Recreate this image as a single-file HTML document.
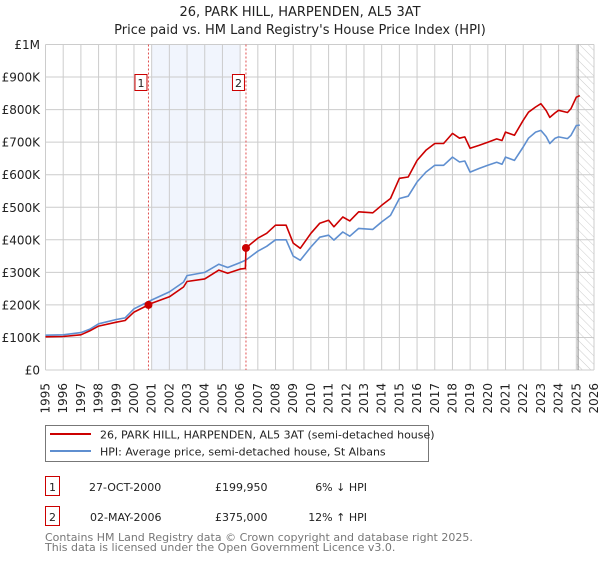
<!DOCTYPE html>
<html><head><meta charset="utf-8"><style>
body{margin:0;background:#fff;}
svg{font-family:"DejaVu Sans","Liberation Sans",sans-serif;}
</style></head><body>
<svg id="chart" width="600" height="560" viewBox="0 0 600 560" xmlns="http://www.w3.org/2000/svg">
<defs><pattern id="hatch" width="6" height="6" patternUnits="userSpaceOnUse" patternTransform="rotate(-45)"><line x1="0" y1="0" x2="0" y2="6" stroke="#ccc" stroke-width="1"/></pattern></defs>
<text x="300" y="16" text-anchor="middle" font-size="13" fill="#222">26, PARK HILL, HARPENDEN, AL5 3AT</text>
<text x="300" y="34" text-anchor="middle" font-size="13" fill="#222">Price paid vs. HM Land Registry's House Price Index (HPI)</text>
<g id="plot"></g>
<g>
<rect x="45.5" y="425.5" width="383" height="36" fill="#fff" stroke="#777"/>
<line x1="50" y1="434" x2="91" y2="434" stroke="#cc0000" stroke-width="2"/>
<text x="100" y="438.5" font-size="11" fill="#222">26, PARK HILL, HARPENDEN, AL5 3AT (semi-detached house)</text>
<line x1="50" y1="451" x2="91" y2="451" stroke="#5f8fd0" stroke-width="2"/>
<text x="100" y="455.5" font-size="11" fill="#222">HPI: Average price, semi-detached house, St Albans</text>
</g>
<g font-size="11" fill="#222">
<rect x="45.5" y="476.5" width="14" height="19" fill="#fff" stroke="#cc0000"/>
<text x="52.5" y="491" text-anchor="middle">1</text>
<text x="89" y="491">27-OCT-2000</text>
<text x="215" y="491">£199,950</text>
<text x="367" y="491" text-anchor="end">6% ↓ HPI</text>
<rect x="45.5" y="506.5" width="14" height="19" fill="#fff" stroke="#cc0000"/>
<text x="52.5" y="521" text-anchor="middle">2</text>
<text x="90" y="521">02-MAY-2006</text>
<text x="215" y="521">£375,000</text>
<text x="367" y="521" text-anchor="end">12% ↑ HPI</text>
</g>
<text x="45" y="541" font-size="11" fill="#777">Contains HM Land Registry data © Crown copyright and database right 2025.</text>
<text x="45" y="551" font-size="11" fill="#777">This data is licensed under the Open Government Licence v3.0.</text>
</svg>
<script>
const yTicks=[0,100,200,300,400,500,600,700,800,900,1000];
const yTickLabels=["£0","£100K","£200K","£300K","£400K","£500K","£600K","£700K","£800K","£900K","£1M"];
const years=[1995,1996,1997,1998,1999,2000,2001,2002,2003,2004,2005,2006,2007,2008,2009,2010,2011,2012,2013,2014,2015,2016,2017,2018,2019,2020,2021,2022,2023,2024,2025,2026];
const redT=[1995,1996,1997,1997.5,1998,1999,1999.5,2000,2000.82,2001,2002,2002.8,2003,2004,2004.8,2005.3,2006,2006.3,2006.33,2007,2007.5,2008,2008.6,2009,2009.4,2010,2010.5,2011,2011.3,2011.8,2012.2,2012.7,2013.5,2014,2014.5,2015,2015.5,2016,2016.5,2017,2017.5,2018,2018.4,2018.7,2019,2019.5,2020,2020.5,2020.8,2021,2021.5,2022,2022.3,2022.7,2023,2023.3,2023.5,2023.8,2024,2024.5,2024.7,2025,2025.2];
const redV=[102,103,108,120,135,147,152,178,200,205,225,255,272,280,307,297,310,312,375,405,420,445,445,390,374,420,451,460,440,470,458,486,483,506,527,589,593,644,675,696,696,727,712,716,681,690,700,710,705,731,721,767,792,808,818,797,776,790,798,791,803,838,843];
const blueT=[1995,1996,1997,1997.5,1998,1999,1999.5,2000,2000.82,2001,2002,2002.8,2003,2004,2004.8,2005.3,2006,2006.33,2007,2007.5,2008,2008.6,2009,2009.4,2010,2010.5,2011,2011.3,2011.8,2012.2,2012.7,2013.5,2014,2014.5,2015,2015.5,2016,2016.5,2017,2017.5,2018,2018.4,2018.7,2019,2019.5,2020,2020.5,2020.8,2021,2021.5,2022,2022.3,2022.7,2023,2023.3,2023.5,2023.8,2024,2024.5,2024.7,2025,2025.2];
const blueV=[107,108,115,125,142,155,160,188,210,215,240,270,290,300,325,315,330,338,365,380,400,400,350,337,378,408,414,399,424,411,435,432,455,475,527,534,578,608,629,629,654,639,642,608,619,629,638,632,654,644,685,712,731,736,717,696,712,716,711,721,751,752];
const sales=[[2000.82,199.95,"1"],[2006.33,375,"2"]];
const NS="http://www.w3.org/2000/svg";
const X0=45.5,X1=594,Y0=370,Y1=44.5;
const xs=t=>X0+(t-1995)/(2026-1995)*(X1-X0);
const ys=v=>Y0-v/1000*(Y0-Y1);
const plot=document.getElementById('plot');
function mk(tag,attrs,parent){const e=document.createElementNS(NS,tag);for(const k in attrs)e.setAttribute(k,attrs[k]);(parent||plot).appendChild(e);return e;}
let r=mk('rect',{x:xs(2001),y:Y1,width:xs(2006)-xs(2001),height:Y0-Y1,fill:'#eef3fd',opacity:0.8});


r=mk('rect',{x:xs(2025),y:Y1,width:X1-xs(2025),height:Y0-Y1,fill:'url(#hatch)'});


years.forEach(y=>{const l=mk('line',{x1:xs(y),x2:xs(y),y1:Y1,y2:Y0,stroke:'#ccc','stroke-width':1});


const t=mk('text',{transform:`translate(${xs(y)+4},383) rotate(-90)`,'text-anchor':'end','font-size':12,fill:'#222'});


t.textContent=y;});
yTicks.forEach((v,i)=>{const l=mk('line',{x1:X0,x2:X1,y1:ys(v),y2:ys(v),stroke:'#ccc','stroke-width':1});


const t=mk('text',{x:40,y:ys(v)+4.5,'text-anchor':'end','font-size':12,fill:'#222'});


t.textContent=yTickLabels[i];});
let vl=mk('line',{x1:xs(2025.1),x2:xs(2025.1),y1:Y1,y2:Y0,stroke:'#888','stroke-width':1});


sales.forEach(s=>{const l=mk('line',{x1:xs(s[0]),x2:xs(s[0]),y1:Y1,y2:Y0,stroke:'#e05050','stroke-width':1,'stroke-dasharray':'2,2'});

});
function path(T,V,color,name){const d=T.map((t,i)=>(i?'L':'M')+xs(t).toFixed(1)+','+ys(V[i]).toFixed(1)).join('');
const p=mk('path',{d:d,fill:'none',stroke:color,'stroke-width':1.6,'stroke-linejoin':'round'});

}
path(blueT,blueV,'#5f8fd0','hpi-line');
path(redT,redV,'#cc0000','property-price-line');
sales.forEach(s=>{const c=mk('circle',{cx:xs(s[0]),cy:ys(s[1]),r:4,fill:'#cc0000'});


const b=mk('rect',{x:xs(s[0])-13.5,y:74.5,width:12,height:16,fill:'#fff',stroke:'#cc0000'});


const t=mk('text',{x:xs(s[0])-7.5,y:87,'text-anchor':'middle','font-size':11,fill:'#222'});


t.textContent=s[2];});
</script>
</body></html>
